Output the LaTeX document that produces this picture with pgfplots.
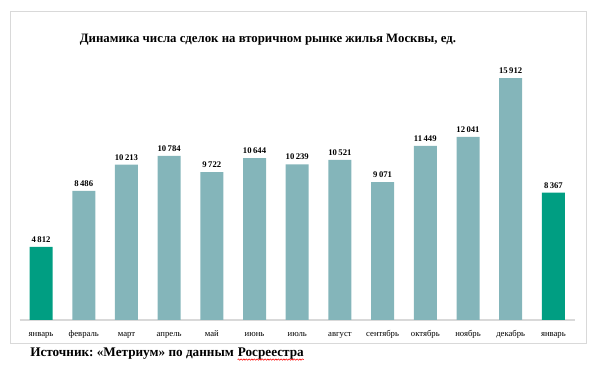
\documentclass[border=0pt]{standalone}
\usepackage{fontspec}
\setmainfont{Liberation Serif}
\usepackage{pgfplots}
\pgfplotsset{compat=1.18}
\usetikzlibrary{decorations.pathmorphing}
\definecolor{barteal}{RGB}{132,181,186}
\definecolor{bargreen}{RGB}{0,158,130}
\definecolor{framegray}{RGB}{217,217,217}
\frenchspacing
\begin{document}
\begin{tikzpicture}
\useasboundingbox (0,0) rectangle (453pt,274.5pt);
\draw[framegray, line width=0.6pt] (7.5pt,17.25pt) rectangle (439.5pt,266.25pt);
\node[font=\fontsize{9.6}{12}\selectfont\bfseries] at (201pt,244.5pt) {Динамика числа сделок на вторичном рынке жилья Москвы, ед.};
\node[anchor=west, font=\fontsize{9.9}{11}\selectfont\bfseries, inner sep=0pt] (s1) at (22.5pt,9pt) {Источник: «Метриум» по данным};
\node[anchor=base west, font=\fontsize{9.9}{11}\selectfont\bfseries, inner sep=0pt] (s2) at ([xshift=2.6pt]s1.base east) {Росреестра};
\draw[red, line width=0.4pt, decorate, decoration={snake, amplitude=0.5pt, segment length=2pt}] ([yshift=-2pt]s2.base west) -- ([yshift=-2pt]s2.base east);
\begin{axis}[
  at={(14.8pt,34.5pt)}, anchor=south west,
  scale only axis, width=416.25pt, height=193.9pt,
  xmin=-0.5, xmax=12.5, ymin=0, ymax=17000,
  axis x line=bottom, axis y line=none,
  x axis line style={framegray, line width=0.8pt, -},
  xtick={0,...,12}, major tick length=0pt,
  xticklabels={январь,февраль,март,апрель,май,июнь,июль,август,сентябрь,октябрь,ноябрь,декабрь,январь},
  xticklabel style={font=\fontsize{6.5}{8}\selectfont, text height=4.5pt, text depth=1.5pt, yshift=-4pt},
  ybar, bar width=17.25pt,
  /pgf/number format/.cd, 1000 sep={\,}, assume math mode=true,
  /pgfplots/.cd,
  nodes near coords,
  every node near coord/.append style={font=\fontsize{6.5}{8}\selectfont\bfseries, black, inner sep=3pt},
]
\addplot[fill=barteal, draw=none, bar shift=0pt] coordinates {
 (1,8486) (2,10213) (3,10784) (4,9722) (5,10644) (6,10239) (7,10521) (8,9071) (9,11449) (10,12041) (11,15912)};
\addplot[fill=bargreen, draw=none, bar shift=0pt] coordinates {(0,4812) (12,8367)};
\end{axis}
\end{tikzpicture}
\end{document}
